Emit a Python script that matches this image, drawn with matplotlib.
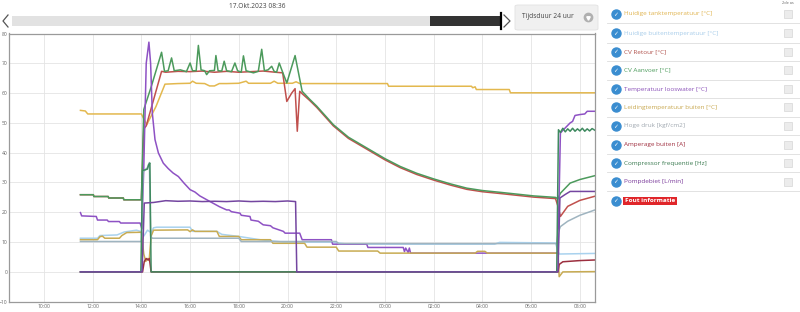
import matplotlib
matplotlib.use("Agg")
import matplotlib.pyplot as plt
from matplotlib.lines import Line2D
from matplotlib.patches import Rectangle, FancyBboxPatch

plt.rcParams['font.family'] = ['Open Sans', 'DejaVu Sans']

# ---- data (uren sinds 17 okt 00:00) ----
t_tank = [11.5, 11.7, 11.8, 14.0, 14.22, 14.6, 14.97, 15.5, 16.0, 16.1, 16.25, 16.6, 16.8, 17.0, 17.2,
          17.5, 18.0, 18.3, 18.4, 18.6, 19.3, 19.45, 19.6, 20.2, 20.35, 20.5, 24.1, 24.15, 27.55, 27.6,
          27.7, 27.75, 29.1, 29.15, 32.62]
v_tank = [54.2, 54.0, 53.0, 53.0, 49.4, 55.5, 63.0, 63.2, 63.3, 64.0, 63.3, 63.2, 62.4, 62.4, 63.2,
          63.2, 63.3, 64.0, 63.3, 63.3, 63.3, 64.0, 63.3, 63.3, 63.8, 63.2, 63.2, 62.3, 62.3, 61.8,
          62.1, 61.2, 61.2, 60.1, 60.1]

t_buiten = [11.5, 12.2, 12.3, 13.0, 13.3, 13.8, 14.0, 14.1, 14.25, 14.4, 14.5, 14.63, 16.0, 16.1, 17.1,
            17.3, 17.5, 18.0, 18.87, 19.83, 21.75, 22.5, 28.5, 28.7, 31.0, 31.1, 31.15, 32.62]
v_buiten = [11.3, 11.3, 12.2, 12.4, 13.4, 14.0, 13.5, 12.0, 14.0, 13.2, 14.8, 15.0, 15.0, 13.6, 13.6,
            12.6, 12.4, 11.9, 10.8, 10.0, 10.0, 9.3, 9.3, 9.9, 9.7, 7.0, 6.0, 6.2]

t_retour = [11.5, 12.03, 12.05, 12.64, 12.66, 13.26, 13.28, 14.0, 14.1, 14.2, 14.83, 15.0, 15.5, 16.0,
            16.5, 17.0, 17.5, 18.0, 18.5, 19.0, 19.5, 19.8, 19.97, 20.17, 20.31, 20.4, 20.5, 20.6, 20.9,
            21.2, 21.88, 22.5, 23.25, 24.0, 24.62, 25.3, 26.0, 26.7, 27.36, 28.0, 28.73, 30.1, 31.0,
            31.1, 31.2, 31.5, 32.0, 32.62]
v_retour = [25.9, 25.9, 25.3, 25.3, 24.8, 24.8, 24.2, 24.2, 48.0, 49.0, 67.3, 67.0, 67.3, 67.2,
            67.4, 67.0, 67.3, 67.0, 67.2, 67.4, 67.0, 66.8, 57.2, 60.0, 61.5, 47.2, 60.6, 59.8, 57.6,
            55.2, 49.0, 44.8, 41.2, 37.6, 35.0, 32.7, 30.8, 29.1, 27.7, 26.9, 26.3, 25.1, 24.6,
            22.0, 18.6, 22.0, 24.0, 25.4]

t_aanvoer = [11.5, 12.03, 12.05, 12.64, 12.66, 13.26, 13.28, 14.0, 14.1, 14.4, 14.83, 14.95, 15.1,
             15.24, 15.35, 15.6, 15.85, 16.0, 16.1, 16.25, 16.34, 16.45, 16.6, 16.68, 16.8, 17.0, 17.06,
             17.15, 17.3, 17.4, 17.5, 17.7, 17.84, 17.95, 18.1, 18.19, 18.3, 18.6, 18.8, 18.94, 19.05,
             19.2, 19.35, 19.45, 19.55, 19.66, 19.8, 19.97, 20.31, 20.6, 20.9, 21.2, 21.88, 22.5, 23.25,
             24.0, 24.62, 25.3, 26.0, 26.7, 27.36, 28.0, 28.73, 30.1, 31.0, 31.1, 31.2, 31.6, 32.0, 32.62]
v_aanvoer = [25.9, 25.9, 25.3, 25.3, 24.8, 24.8, 24.2, 24.2, 54.5, 62.0, 73.7, 67.3, 67.5,
             71.8, 67.5, 67.8, 67.2, 70.1, 67.5, 67.5, 76.0, 67.8, 67.5, 66.2, 67.5, 67.6, 72.6,
             67.5, 67.4, 70.7, 67.5, 67.2, 70.1, 67.5, 67.0, 72.5, 67.5, 66.8, 67.3, 74.7, 67.5,
             67.8, 69.0, 67.3, 67.0, 70.1, 67.0, 63.4, 72.6, 60.6, 58.0, 55.6, 49.4, 45.2, 41.6,
             38.0, 35.4, 33.1, 31.2, 29.5, 28.1, 27.3, 26.7, 25.5, 25.0, 24.5, 26.4, 29.8, 31.0, 32.3]

t_loos = [11.5, 11.55, 12.15, 12.2, 12.6, 12.65, 13.1, 13.15, 13.95, 14.02, 14.1, 14.2, 14.31, 14.38,
          14.45, 14.56, 14.7, 14.9, 15.1, 15.3, 15.52, 15.75, 16.0, 16.2, 16.4, 16.6, 16.82, 17.0,
          17.2, 17.5, 17.6, 17.7, 18.05, 18.1, 18.46, 18.5, 18.8, 19.0, 19.3, 19.4, 19.83, 19.9,
          20.5, 20.6, 21.8, 21.85, 23.25, 23.3, 24.75, 24.8, 24.85, 24.95, 25.0, 25.05, 31.1,
          31.2, 31.3, 31.6, 31.7, 31.8, 32.0, 32.2, 32.3, 32.62]
v_loos = [19.9, 18.8, 18.6, 17.4, 17.4, 16.9, 16.9, 16.4, 16.4, 14.5, 35.0, 70.0, 77.1, 70.0,
          53.3, 44.4, 39.9, 36.5, 34.7, 33.2, 32.0, 29.8, 27.6, 26.8, 25.5, 24.6, 23.6, 22.8,
          21.9, 20.8, 20.8, 20.2, 19.7, 19.0, 18.6, 17.4, 17.0, 15.8, 15.5, 14.8, 13.6, 13.0,
          13.0, 10.8, 10.8, 9.3, 9.3, 8.2, 8.2, 6.8, 8.0, 6.5, 8.0, 6.3, 6.3,
          46.6, 47.5, 50.0, 50.5, 52.5, 52.8, 53.0, 53.9, 53.9]

t_leiding = [11.5, 12.2, 12.3, 12.4, 12.5, 13.1, 13.2, 13.4, 14.0, 14.1, 14.18, 14.25, 14.32, 14.4,
             14.5, 15.9, 16.0, 16.1, 16.2, 17.1, 17.2, 18.0, 18.1, 19.3, 19.4, 20.7, 20.8, 22.0,
             22.1, 23.7, 23.8, 27.7, 27.8, 28.1, 28.2, 31.1, 31.15, 31.3, 32.62]
v_leiding = [10.8, 10.8, 11.8, 12.0, 11.3, 11.3, 12.2, 13.2, 13.3, 6.0, 3.5, 4.5, 3.8, 12.0,
             14.0, 14.1, 13.5, 14.1, 13.6, 13.6, 11.9, 11.9, 10.8, 10.8, 9.6, 9.6, 8.3, 8.3,
             7.0, 7.0, 6.3, 6.3, 6.9, 6.9, 6.3, 6.3, -1.6, 0.0, 0.1]

t_druk = [11.5, 14.0, 14.07, 14.25, 14.33, 14.38, 14.45, 18.0, 18.1, 22.0, 22.1, 31.05, 31.1, 31.2,
          31.5, 32.0, 32.62]
v_druk = [10.2, 10.2, 33.5, 35.0, 36.7, 12.0, 11.3, 11.3, 10.2, 10.2, 9.5, 9.5, 13.0, 15.2,
          17.0, 19.0, 20.8]

t_amp = [11.5, 14.05, 14.12, 14.2, 14.27, 14.33, 14.4, 31.1, 31.15, 31.3, 32.0, 32.62]
v_amp = [0.0, 0.0, 3.5, 4.5, 4.0, 4.5, 0.0, 0.0, 2.5, 3.4, 3.8, 4.0]

t_comp = [11.5, 13.98, 14.05, 14.25, 14.3, 14.35, 14.4, 31.05, 31.12, 31.2, 31.3, 31.4, 31.5, 31.6,
          31.7, 31.8, 31.9, 32.0, 32.1, 32.2, 32.3, 32.4, 32.5, 32.62]
v_comp = [0.0, 0.0, 34.0, 34.5, 36.0, 36.5, 0.0, 0.0, 47.7, 46.8, 48.2, 47.0, 48.0, 47.2,
          48.2, 47.2, 48.0, 47.3, 48.2, 47.2, 48.0, 47.3, 48.1, 47.5]

t_pomp = [11.5, 14.03, 14.12, 14.5, 15.0, 15.5, 16.0, 16.5, 17.0, 17.5, 18.0, 18.5, 19.0, 19.5,
          20.0, 20.33, 20.38, 31.1, 31.18, 31.4, 31.6, 32.62]
v_pomp = [0.0, 0.0, 23.1, 23.3, 23.9, 23.7, 23.8, 23.6, 23.7, 23.6, 23.8, 23.6, 23.7, 23.6,
          23.8, 23.6, 0.0, 0.0, 24.8, 26.0, 27.0, 27.0]

namen = ['Huidige tanktemperatuur [°C]', 'Huidige buitentemperatuur [°C]', 'CV Retour [°C]',
         'CV Aanvoer [°C]', 'Temperatuur looswater [°C]', 'Leidingtemperatuur buiten [°C]',
         'Hoge druk [kgf/cm2]', 'Amperage buiten [A]', 'Compressor frequentie [Hz]', 'Pompdebiet [L/min]']
kleuren = ['#e3b84e', '#a9d2ee', '#c0504d', '#4c9a5c', '#8e52c4', '#c8ab52',
           '#9fb4c0', '#9c2f3f', '#3f8a60', '#7446a0']
tekstkleuren = ['#e0b450', '#a8cdea', '#b0504a', '#4a9a5a', '#8a50b8', '#c8a850',
                '#a0a8b0', '#a03040', '#3a7a50', '#7a3a9a']

x_ticks = [10, 12, 14, 16, 18, 20, 22, 24, 26, 28, 30, 32]
x_labels = ['10:00', '12:00', '14:00', '16:00', '18:00', '20:00', '22:00', '00:00',
            '02:00', '04:00', '06:00', '08:00']
y_ticks = [-10, 0, 10, 20, 30, 40, 50, 60, 70, 80]

reeksen = [(t_tank, v_tank), (t_buiten, v_buiten), (t_retour, v_retour), (t_aanvoer, v_aanvoer),
           (t_loos, v_loos), (t_leiding, v_leiding), (t_druk, v_druk), (t_amp, v_amp),
           (t_comp, v_comp), (t_pomp, v_pomp)]

W, H = 800, 312
fig = plt.figure(figsize=(W / 100, H / 100), dpi=100)


def fx(px):
    return px / W


def fy(py):
    return 1 - py / H


# ---- grafiek ----
ax = fig.add_axes([fx(9.3), fy(301.7), fx(595) - fx(9.3), fy(33.5) - fy(301.7)])
for (t, v), c in zip(reeksen, kleuren):
    ax.plot(t, v, color=c, linewidth=1.1)

ax.set_xlim(8.58, 32.62)
ax.set_ylim(-10, 80)
ax.set_xticks(x_ticks)
ax.set_xticklabels(x_labels)
ax.set_yticks(y_ticks)
ax.tick_params(axis='both', length=0, labelsize=3.6, colors='#666666', pad=1.5)
ax.grid(True, color='#e4e4e4', linewidth=0.6)
for s in ax.spines.values():
    s.set_color('#9a9a9a')
    s.set_linewidth(0.9)

# ---- tijdbalk bovenaan ----
fig.text(fx(257), fy(6), '17.Okt.2023 08:36', fontsize=4.8, color='#444444', ha='center', va='center')
fig.add_artist(Rectangle((fx(11.5), fy(26)), fx(430) - fx(11.5), fy(16) - fy(26),
                         transform=fig.transFigure, facecolor='#e2e2e2', edgecolor='none'))
fig.add_artist(Rectangle((fx(430), fy(26)), fx(500) - fx(430), fy(16) - fy(26),
                         transform=fig.transFigure, facecolor='#333333', edgecolor='none'))
fig.add_artist(Line2D([fx(500.6)] * 2, [fy(13.4), fy(28.7)], transform=fig.transFigure,
                      color='black', linewidth=1.6))
fig.add_artist(Line2D([fx(8), fx(3), fx(8)], [fy(15), fy(21), fy(27)], transform=fig.transFigure,
                      color='#555555', linewidth=0.9))
fig.add_artist(Line2D([fx(504), fx(510), fx(504)], [fy(15), fy(21), fy(27)], transform=fig.transFigure,
                      color='#555555', linewidth=0.9))
fig.add_artist(FancyBboxPatch((fx(515), fy(30)), fx(598) - fx(515), fy(5) - fy(30),
                              boxstyle='round,pad=0,rounding_size=0.004', transform=fig.transFigure,
                              facecolor='#f0f0f0', edgecolor='#e2e2e2', linewidth=0.6))
fig.text(fx(522), fy(17), 'Tijdsduur 24 uur', fontsize=4.8, color='#444444', ha='left', va='center')
fig.add_artist(Line2D([fx(588)], [fy(17)], transform=fig.transFigure, marker='o', markersize=6,
                      color='#b0b0b0', linestyle='none'))
fig.add_artist(Line2D([fx(588)], [fy(17.5)], transform=fig.transFigure, marker='v', markersize=2.5,
                      color='white', linestyle='none'))

# ---- legenda rechts ----
rij_y = [14, 33.3, 51.7, 70.3, 89, 107.3, 126, 144.7, 163, 181.7, 200.7]
fig.text(fx(788), fy(3.5), '2de as', fontsize=2.8, color='#666666', ha='center', va='center')
for i, y in enumerate(rij_y):
    fig.add_artist(Line2D([fx(615.7)], [fy(y)], transform=fig.transFigure, marker='o', markersize=6.5,
                          color='#3a8dd0', linestyle='none'))
    fig.text(fx(615.7), fy(y + 0.3), '✓', fontsize=4.2, color='white', fontweight='bold',
             ha='center', va='center', family='DejaVu Sans')
    if i < len(namen):
        fig.text(fx(624), fy(y), namen[i], fontsize=4.6, color=tekstkleuren[i], ha='left', va='center')
        fig.add_artist(Line2D([fx(788)], [fy(y)], transform=fig.transFigure, marker='s', markersize=5.5,
                              markerfacecolor='#ececec', markeredgecolor='#d6d6d6', markeredgewidth=0.5,
                              linestyle='none'))
        fig.add_artist(Line2D([fx(607), fx(800)], [fy(y + 9.4)] * 2, transform=fig.transFigure,
                              color='#dddddd', linewidth=0.6))
    else:
        fig.text(fx(625), fy(y), 'Fout informatie', fontsize=4.6, color='white', fontweight='bold',
                 ha='left', va='center',
                 bbox=dict(facecolor='#e0262a', edgecolor='none', boxstyle='square,pad=0.25'))

fig.savefig('out.png', dpi=100)
